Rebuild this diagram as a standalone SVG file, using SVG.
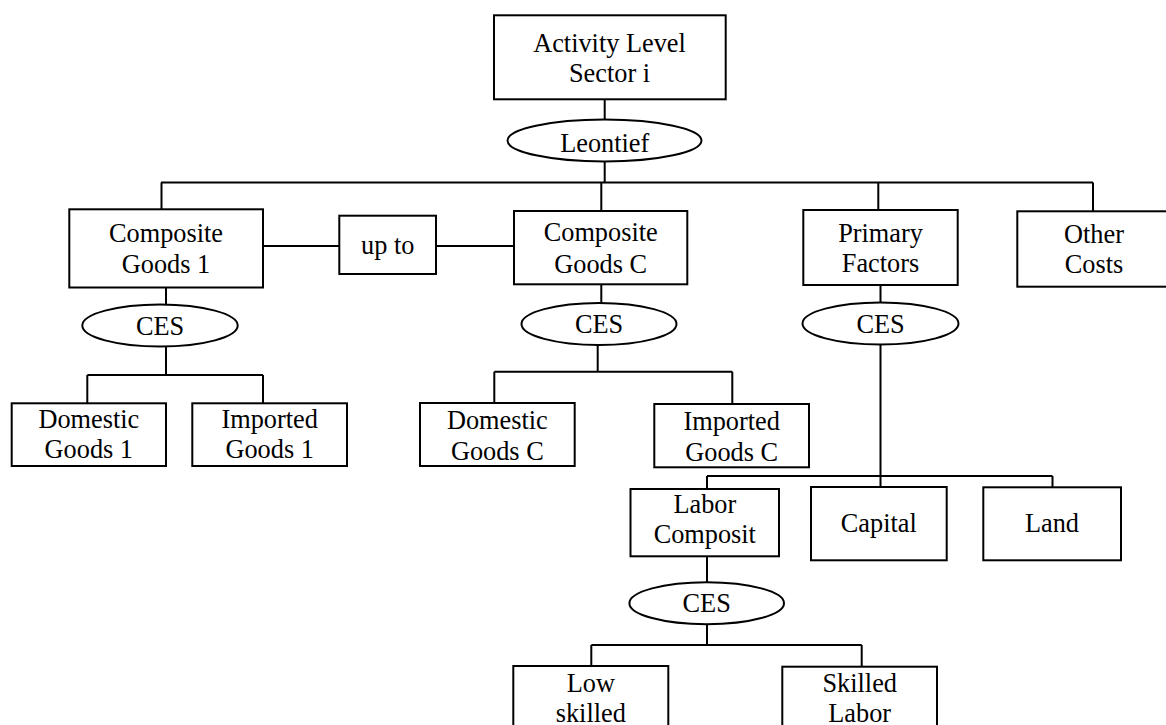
<svg xmlns="http://www.w3.org/2000/svg" width="1166" height="725" viewBox="0 0 1166 725">
<style>
.b{fill:#fff;stroke:#000;stroke-width:2}
.e{fill:#fff;stroke:#000;stroke-width:2}
.c{fill:none;stroke:#000;stroke-width:2}
text{font-family:"Liberation Serif","Times New Roman",serif;font-size:26.3px;fill:#000;text-anchor:middle}
</style>
<rect width="1166" height="725" fill="#fff"/>
<g id="connectors">
<path class="c" d="M604.7 99.3V119.5M604.7 161.5V182.5M161 182.5H1093M161.5 182.5V209.3M601.3 182.5V211M878.3 182.5V210M1093 182.5V211.3"/>
<path class="c" d="M263 246H339.3M436 246H514"/>
<path class="c" d="M166 287.5V304.5M166 346.5V375M87.3 375H263M87.3 375V403.3M263 375V403.3"/>
<path class="c" d="M601.3 284.3V303M597.7 345V371.7M494.3 371.7H732.3M494.3 371.7V403M732.3 371.7V404"/>
<path class="c" d="M880.5 285V302.5M880.5 344.5V487M707 476H1052.5M707 476V489M1052.5 476V487.3"/>
<path class="c" d="M707 556V582.2M707 624.2V645M591.3 645H861.7M591.3 645V666M861.7 645V666.7"/>
</g>
<g id="activity"><rect class="b" x="494" y="15.3" width="231.7" height="84"/><text x="609.5" y="51.7">Activity Level</text><text x="609.5" y="81.7">Sector i</text></g>
<g id="leontief"><ellipse class="e" cx="604.5" cy="140.5" rx="97" ry="21"/><text x="604.7" y="151.5">Leontief</text></g>
<g id="composite1"><rect class="b" x="69.3" y="209.3" width="193.7" height="78.2"/><text x="166" y="241.7">Composite</text><text x="166" y="273.3">Goods 1</text></g>
<g id="upto"><rect class="b" x="339.3" y="215.7" width="96.7" height="58.3"/><text x="387.7" y="254">up to</text></g>
<g id="compositeC"><rect class="b" x="514" y="211" width="173.3" height="73.3"/><text x="600.7" y="240.7">Composite</text><text x="600.7" y="272.7">Goods C</text></g>
<g id="primary"><rect class="b" x="803.3" y="210" width="154.4" height="75"/><text x="880.5" y="241.7">Primary</text><text x="880.5" y="271.7">Factors</text></g>
<g id="other"><rect class="b" x="1017.3" y="211.3" width="150" height="75.4"/><text x="1094" y="242.7">Other</text><text x="1094" y="273">Costs</text></g>
<g id="ces1"><ellipse class="e" cx="160" cy="325.5" rx="77.7" ry="21"/><text x="160" y="334.5">CES</text></g>
<g id="cesC"><ellipse class="e" cx="599" cy="324" rx="77.5" ry="21"/><text x="599" y="333">CES</text></g>
<g id="cesP"><ellipse class="e" cx="880.5" cy="323.5" rx="78" ry="21"/><text x="880.5" y="332.5">CES</text></g>
<g id="dom1"><rect class="b" x="11.7" y="403.3" width="154.3" height="62.7"/><text x="88.8" y="427.7">Domestic</text><text x="88.8" y="458">Goods 1</text></g>
<g id="imp1"><rect class="b" x="192.3" y="403.3" width="154.7" height="62.7"/><text x="269.7" y="427.7">Imported</text><text x="269.7" y="458">Goods 1</text></g>
<g id="domC"><rect class="b" x="420" y="403" width="154.7" height="63"/><text x="497.3" y="429">Domestic</text><text x="497.3" y="460">Goods C</text></g>
<g id="impC"><rect class="b" x="654.3" y="404" width="154.7" height="63.3"/><text x="731.7" y="430">Imported</text><text x="731.7" y="461">Goods C</text></g>
<g id="labor"><rect class="b" x="630.5" y="489" width="148.5" height="67.3"/><text x="704.8" y="513">Labor</text><text x="704.8" y="543">Composit</text></g>
<g id="capital"><rect class="b" x="811" y="487" width="135.7" height="73.3"/><text x="878.8" y="532">Capital</text></g>
<g id="land"><rect class="b" x="983.3" y="487.3" width="137.7" height="73"/><text x="1052" y="532">Land</text></g>
<g id="cesL"><ellipse class="e" cx="706.7" cy="603.2" rx="77.3" ry="21"/><text x="706.7" y="612.2">CES</text></g>
<g id="low"><rect class="b" x="513.3" y="666" width="155" height="75"/><text x="590.8" y="691.7">Low</text><text x="590.8" y="721.7">skilled</text></g>
<g id="skilled"><rect class="b" x="782.3" y="666.7" width="154.7" height="75"/><text x="859.7" y="691.7">Skilled</text><text x="859.7" y="721.7">Labor</text></g>
</svg>
